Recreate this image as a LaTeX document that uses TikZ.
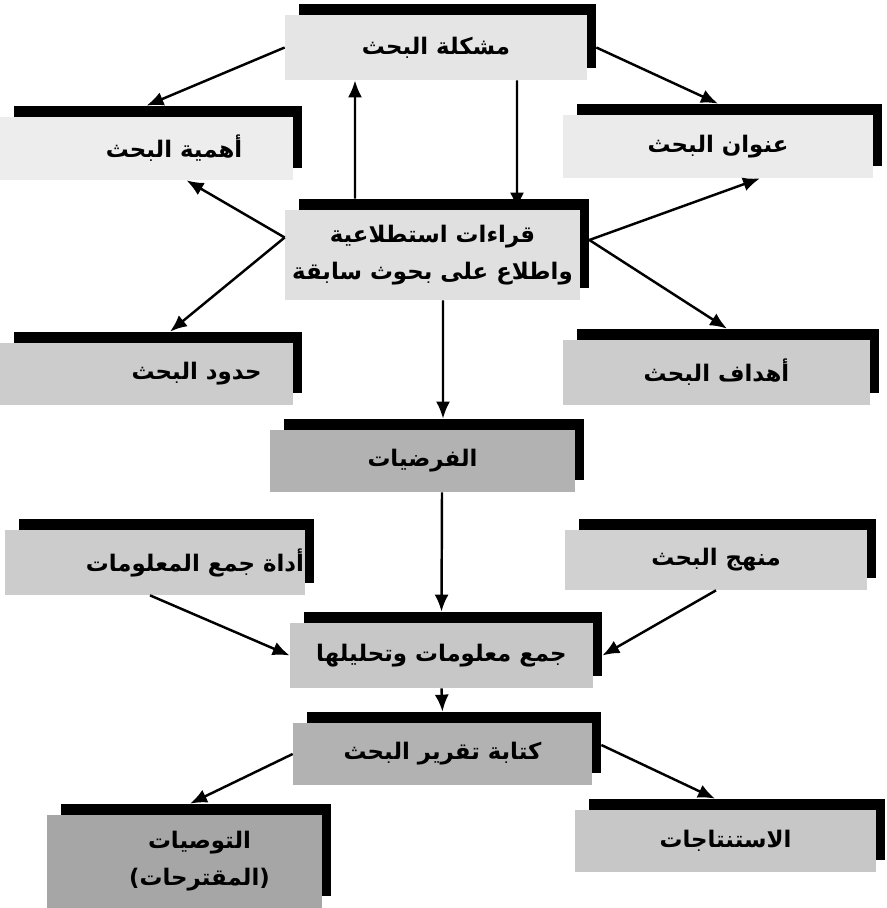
\documentclass[tikz,border=0pt]{standalone}
\usepackage{fontspec}
\newfontfamily\arabicfont[Script=Arabic]{DejaVu Sans}
\TeXXeTstate=1
\usetikzlibrary{arrows.meta}

\begin{document}
\begin{tikzpicture}[
    x=0.2mm, y=-0.2mm,
    box/.style={
        rectangle,
        fill=#1,              % the speckled grey of the card
        inner sep=0pt,
        align=center,
        font=\arabicfont\bfseries\fontsize{13}{21}\selectfont
    },
    box/.default=black!12,
    arr/.style={-{Latex[length=3.4mm,width=2.8mm]}, line width=1.4pt}
]
\useasboundingbox (0,0) rectangle (886,908);

% top of the chart
\node[box=black!10, minimum width=60.4mm, minimum height=13mm] (mushkila) at (436,47.5) {\beginR مشكلة البحث\endR};
\node[box=black!7, minimum width=58.6mm, minimum height=12.6mm] (ahamiya) at (146.5,148.5) {\hspace*{11mm}\beginR أهمية البحث\endR};
\node[box=black!8, minimum width=62mm, minimum height=12.6mm] (unwan) at (718,146.5) {\beginR عنوان البحث\endR};
\node[box=black!12, minimum width=59mm, minimum height=18mm] (qiraat) at (432.5,255) {\beginR قراءات استطلاعية\endR\\\beginR واطلاع على بحوث سابقة\endR};
\node[box=black!20, minimum width=58.6mm, minimum height=12.4mm] (hudud) at (146.5,374) {\hspace*{20mm}\beginR حدود البحث\endR};
\node[box=black!20, minimum width=61.4mm, minimum height=13mm] (ahdaf) at (716.5,372.5) {\beginR أهداف البحث\endR};

% middle
\node[box=black!30, minimum width=61mm, minimum height=12.4mm] (fardiyat) at (422.5,461) {\beginR الفرضيات\endR};
\node[box=black!20, minimum width=60mm, minimum height=13mm] (adat) at (155,562.5) {\hspace*{16mm}\beginR أداة جمع المعلومات\endR};
\node[box=black!18, minimum width=60.4mm, minimum height=12mm] (manhaj) at (716,560) {\beginR منهج البحث\endR};
\node[box=black!22, minimum width=60.6mm, minimum height=13mm] (jam) at (441.5,655.5) {\beginR جمع معلومات وتحليلها\endR};

% bottom
\node[box=black!30, minimum width=59.8mm, minimum height=12.4mm] (kitaba) at (442.5,754) {\beginR كتابة تقرير البحث\endR};
\node[box=black!35, minimum width=55mm, minimum height=18.6mm] (tawsiyat) at (184.5,861.5) {\hspace*{6mm}\beginR التوصيات\endR\\\hspace*{6mm}\beginR (المقترحات)\endR};
\node[box=black!22, minimum width=60.2mm, minimum height=12.4mm] (istintajat) at (725.5,841) {\beginR الاستنتاجات\endR};

% black bars on top and right of every card
\foreach \n in {mushkila,ahamiya,unwan,qiraat,hudud,ahdaf,fardiyat,adat,manhaj,jam,kitaba,tawsiyat,istintajat}{
    \fill ([xshift=2.8mm]\n.north west) rectangle ([xshift=1.8mm,yshift=2.2mm]\n.north east);
    \fill (\n.north east) rectangle ([xshift=1.8mm,yshift=2.4mm]\n.south east);
}

\draw[arr] (mushkila.west) -- ([yshift=2.2mm]ahamiya.north);
\draw[arr] ([xshift=1.8mm]mushkila.east) -- ([yshift=2.2mm]unwan.north);
\draw[arr] ([xshift=-15.5mm,yshift=2.2mm]qiraat.north) -- ([xshift=-16.2mm]mushkila.south);
\draw[arr] ([xshift=16.2mm]mushkila.south) -- ([xshift=16.9mm]qiraat.north);
\draw[arr] ([yshift=3.5mm]qiraat.west) -- ([xshift=8mm]ahamiya.south);
\draw[arr] ([yshift=3.5mm]qiraat.west) -- ([xshift=4.7mm,yshift=2.2mm]hudud.north);
\draw[arr] ([xshift=1.8mm,yshift=3mm]qiraat.east) -- ([xshift=8.4mm]unwan.south);
\draw[arr] ([xshift=1.8mm,yshift=3mm]qiraat.east) -- ([xshift=2.1mm,yshift=2.2mm]ahdaf.north);
\draw[arr] ([xshift=2.1mm]qiraat.south) -- ([xshift=4.1mm,yshift=2.2mm]fardiyat.north);
\draw[arr] ([xshift=3.9mm]fardiyat.south) -- ([yshift=2.2mm]jam.north);
\draw[arr] ([xshift=-1mm]adat.south) -- (jam.west);
\draw[arr] (manhaj.south) -- ([xshift=1.8mm]jam.east);
\draw[arr] (jam.south) -- ([yshift=2.2mm]kitaba.north);
\draw[arr] (kitaba.west) -- ([xshift=1.1mm,yshift=2.2mm]tawsiyat.north);
\draw[arr] ([xshift=1.8mm,yshift=1.8mm]kitaba.east) -- ([xshift=-2.1mm,yshift=2.2mm]istintajat.north);
\end{tikzpicture}
\end{document}
